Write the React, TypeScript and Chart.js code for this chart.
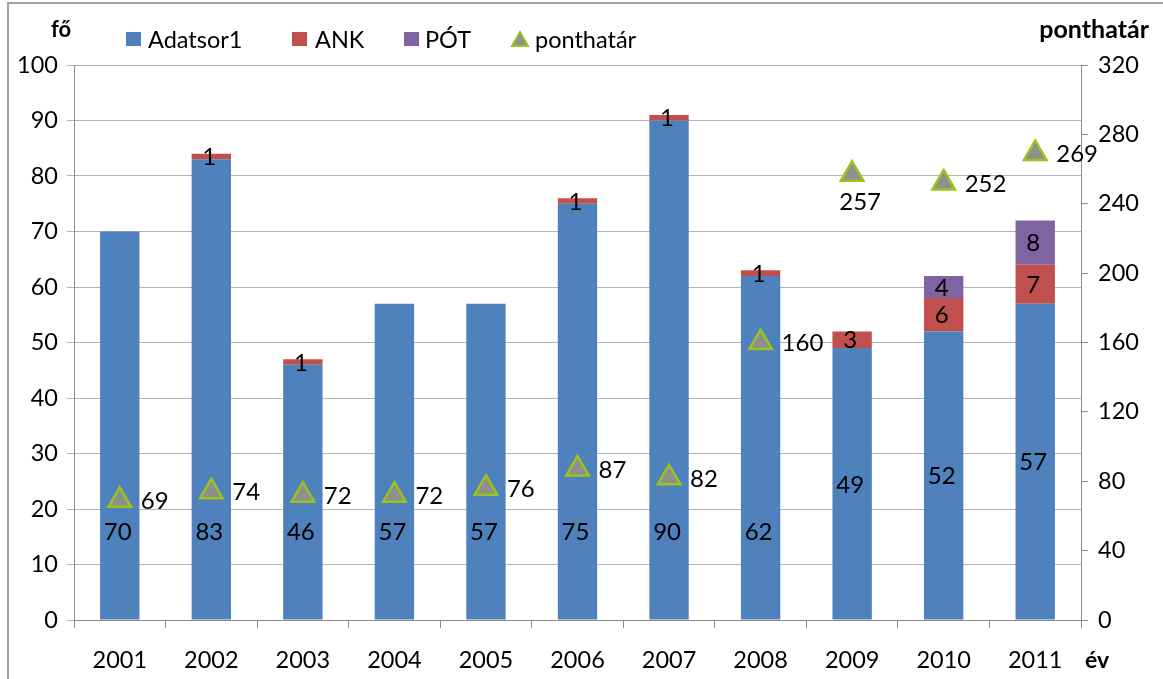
import React, { useEffect, useRef } from "react";
import { Chart, registerables } from "chart.js";

Chart.register(...registerables);

const years = ["2001", "2002", "2003", "2004", "2005", "2006", "2007", "2008", "2009", "2010", "2011"];
const adatsor1 = [70, 83, 46, 57, 57, 75, 90, 62, 49, 52, 57];
const ank = [0, 1, 1, 0, 0, 1, 1, 1, 3, 6, 7];
const pot = [0, 0, 0, 0, 0, 0, 0, 0, 0, 4, 8];
const ponthatar = [69, 74, 72, 72, 76, 87, 82, 160, 257, 252, 269];

const BLUE = "#4f81bd";
const RED = "#c0504d";
const PURPLE = "#8064a2";
const TRI_FILL = "#8f8f8f";
const TRI_BORDER = "#9bc31c";
const FONT = "Lato, 'Open Sans', sans-serif";

const overlayPlugin = {
  id: "overlay",
  beforeDraw(chart: any) {
    const ctx = chart.ctx;
    ctx.save();
    ctx.fillStyle = "#ffffff";
    ctx.fillRect(0, 0, chart.width, chart.height);
    ctx.strokeStyle = "#a0a0a0";
    ctx.lineWidth = 2;
    ctx.beginPath();
    ctx.moveTo(8, chart.height);
    ctx.lineTo(8, 3);
    ctx.lineTo(chart.width, 3);
    ctx.stroke();
    ctx.restore();
  },
  afterDatasetsDraw(chart: any) {
    const ctx = chart.ctx;
    const y = chart.scales.y;
    ctx.save();
    ctx.fillStyle = "#000";
    ctx.font = `24px ${FONT}`;
    ctx.textAlign = "center";
    ctx.textBaseline = "middle";
    const barSets = [0, 1, 2];
    barSets.forEach((di) => {
      const meta = chart.getDatasetMeta(di);
      const data = chart.data.datasets[di].data as number[];
      meta.data.forEach((el: any, i: number) => {
        const v = data[i];
        if (!v) return;
        let cy: number;
        if (di === 0 && i < 8) {
          cy = y.getPixelForValue(16);
        } else {
          cy = (el.y + el.base) / 2;
        }
        ctx.fillText(String(v), el.x - 2, cy + 1);
      });
    });
    const lm = chart.getDatasetMeta(3);
    lm.data.forEach((el: any, i: number) => {
      const v = ponthatar[i];
      if (i === 8) {
        ctx.textAlign = "center";
        ctx.fillText(String(v), el.x + 8, el.y + 28);
      } else {
        ctx.textAlign = "left";
        ctx.fillText(String(v), el.x + 21, el.y + 1);
      }
    });
    ctx.restore();
  },
  afterDraw(chart: any) {
    const ctx = chart.ctx;
    ctx.save();
    ctx.fillStyle = "#000";
    ctx.textBaseline = "middle";
    ctx.font = `bold 22px ${FONT}`;
    ctx.textAlign = "left";
    ctx.fillText("fő", 51, 30);
    ctx.font = `bold 25px ${FONT}`;
    ctx.textAlign = "right";
    ctx.fillText("ponthatár", 1149, 30);
    ctx.font = `bold 23px ${FONT}`;
    ctx.textAlign = "left";
    ctx.fillText("év", 1085, 661);
    ctx.font = `23.5px ${FONT}`;
    const ly = 40;
    const items = [
      { label: "Adatsor1", color: BLUE, x: 126, tx: 148 },
      { label: "ANK", color: RED, x: 292, tx: 315 },
      { label: "PÓT", color: PURPLE, x: 404, tx: 425 },
    ];
    items.forEach((it) => {
      ctx.fillStyle = it.color;
      ctx.fillRect(it.x, ly - 8, 15, 14);
      ctx.fillStyle = "#000";
      ctx.fillText(it.label, it.tx, ly);
    });
    const tx = 520;
    ctx.beginPath();
    ctx.moveTo(tx, ly - 8);
    ctx.lineTo(tx + 8, ly + 6);
    ctx.lineTo(tx - 8, ly + 6);
    ctx.closePath();
    ctx.fillStyle = TRI_FILL;
    ctx.fill();
    ctx.strokeStyle = TRI_BORDER;
    ctx.lineWidth = 2;
    ctx.stroke();
    ctx.fillStyle = "#000";
    ctx.fillText("ponthatár", 535, ly);
    ctx.restore();
  },
};

export default function App() {
  const ref = useRef<HTMLCanvasElement | null>(null);
  useEffect(() => {
    if (!ref.current) return;
    const chart = new Chart(ref.current, {
      type: "bar",
      data: {
        labels: years,
        datasets: [
          { label: "Adatsor1", data: adatsor1, backgroundColor: BLUE, yAxisID: "y", stack: "s", order: 2 },
          { label: "ANK", data: ank, backgroundColor: RED, yAxisID: "y", stack: "s", order: 2 },
          { label: "PÓT", data: pot, backgroundColor: PURPLE, yAxisID: "y", stack: "s", order: 2 },
          {
            type: "line",
            label: "ponthatár",
            data: ponthatar,
            yAxisID: "y1",
            showLine: false,
            pointStyle: "triangle",
            pointRadius: 13,
            pointBackgroundColor: TRI_FILL,
            pointBorderColor: TRI_BORDER,
            pointBorderWidth: 2.5,
            order: 1,
          } as any,
        ],
      },
      options: {
        responsive: false,
        animation: false,
        layout: { padding: { top: 65, left: 0, right: 0, bottom: 0 } },
        plugins: { legend: { display: false }, tooltip: { enabled: false } },
        datasets: { bar: { categoryPercentage: 1, barPercentage: 0.43 } },
        scales: {
          x: {
            stacked: true,
            grid: { display: true, drawOnChartArea: false, drawTicks: true, tickLength: 8, color: "#8c8c8c", offset: true },
            border: { display: true, color: "#8c8c8c" },
            ticks: { color: "#000", font: { size: 23.5, family: FONT }, padding: 18 },
            afterFit(s: any) { s.height = 59; },
          },
          y: {
            stacked: true,
            position: "left",
            min: 0,
            max: 100,
            ticks: { stepSize: 10, color: "#000", font: { size: 23.5, family: FONT }, padding: 9 },
            grid: { color: "#b3b3b3", tickLength: 7, drawTicks: true },
            border: { display: true, color: "#8c8c8c" },
            afterFit(s: any) { s.width = 74; },
          },
          y1: {
            position: "right",
            min: 0,
            max: 320,
            ticks: { stepSize: 40, color: "#000", font: { size: 23.5, family: FONT }, padding: 10 },
            grid: { drawOnChartArea: false, tickLength: 7, color: "#8c8c8c" },
            border: { display: true, color: "#8c8c8c" },
            afterFit(s: any) { s.width = 82; },
          },
        },
      },
      plugins: [overlayPlugin],
    });
    return () => chart.destroy();
  }, []);
  return (
    <div style={{ position: "absolute", left: 0, top: 0, width: 1163, height: 679 }}>
      <canvas ref={ref} width={1163} height={679} style={{ display: "block" }} />
    </div>
  );
}
